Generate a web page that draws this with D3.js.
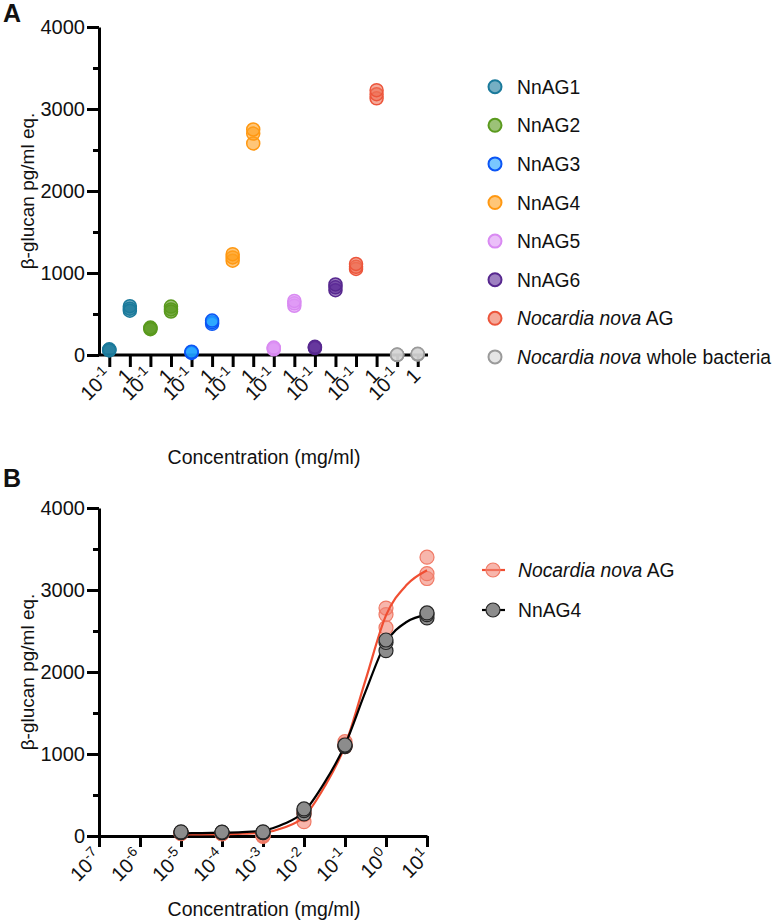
<!DOCTYPE html>
<html>
<head>
<meta charset="utf-8">
<script src="https://cdn.jsdelivr.net/npm/d3@7"></script>
<style>
  body { margin: 0; background: #fff; }
  svg text { font-family: "Liberation Sans", Arial, Helvetica, sans-serif; fill: #111; }
</style>
</head>
<body>
<div id="chart"></div>
<script>
const WIDTH = 778;
const HEIGHT = 924;

// ---- panel A data (three replicates per dose) ----
const groups = ['NnAG1', 'NnAG2', 'NnAG3', 'NnAG4', 'NnAG5', 'NnAG6', 'Nocardia nova AG', 'Nocardia nova whole bacteria'];
const doseLabels = ['10-1', '1'];
const lowDose = [[55, 62, 70], [315, 325, 335], [25, 32, 40], [1150, 1190, 1230], [70, 80, 90], [85, 92, 100], [1050, 1075, 1110], [0, 2, 5]];
const highDose = [[540, 565, 595], [530, 555, 590], [380, 400, 420], [2580, 2700, 2750], [600, 630, 660], [790, 825, 860], [3130, 3180, 3230], [5, 10, 15]];
const strokeCols = ['#1b7a9b', '#5a9a1e', '#0b55f5', '#ff9812', '#d98af2', '#57288f', '#ec553b', '#9a9a9a'];
const fillCols = ['#1b7a9b', '#5a9a1e', '#1fa2ff', '#ffa01e', '#de95f5', '#5d2c98', '#ef6f55', '#d4d4d4'];
const yTicks = [0, 1000, 2000, 3000, 4000];
const yMinor = [500, 1500, 2500, 3500];

// ---- panel B data ----
const concB = [1e-5, 1e-4, 1e-3, 1e-2, 1e-1, 1, 10];
const nocRep = [[30, 35, 40], [25, 30, 35], [-5, 0, 10], [175, 260, 290], [1090, 1120, 1150], [2540, 2700, 2780], [3140, 3200, 3400]];
const nnRep = [[40, 45, 50], [40, 45, 48], [40, 45, 50], [270, 310, 330], [1090, 1100, 1110], [2260, 2360, 2390], [2660, 2700, 2720]];
// fitted curves at half-decade steps
const curveLogX = [-5, -4.5, -4, -3.5, -3, -2.5, -2, -1.5, -1, -0.5, 0, 0.5, 1];
const nocCurve = [18, 20, 22, 28, 40, 100, 235, 600, 1100, 1900, 2690, 3060, 3240];
const nnCurve = [33, 36, 40, 48, 65, 145, 296, 650, 1110, 1760, 2360, 2610, 2700];
const xTicksB = [-7, -6, -5, -4, -3, -2, -1, 0, 1];

const svg = d3.select('#chart').append('svg')
    .attr('width', WIDTH)
    .attr('height', HEIGHT);

const FS = 20;
const LEG_FS = 19.3;

// panel letters
svg.append('text').attr('x', 3).attr('y', 22).text('A')
    .attr('font-size', 25).attr('font-weight', 'bold');
svg.append('text').attr('x', 3).attr('y', 487).text('B')
    .attr('font-size', 25).attr('font-weight', 'bold');

function yAxis(g, y) {
    g.call(d3.axisLeft(y).tickValues(yTicks).tickSize(12).tickSizeOuter(0).tickPadding(2).tickFormat(d3.format('d')));
    g.append('g').call(d3.axisLeft(y).tickValues(yMinor).tickSize(6).tickFormat(''))
        .select('.domain').remove();
    g.selectAll('line, path').attr('stroke', '#000').attr('stroke-width', 3);
    g.selectAll('text').attr('font-size', FS).attr('fill', '#111');
}

function supLabel(sel, base, exp) {
    sel.append('tspan').text(base);
    if (exp !== null) {
        sel.append('tspan').text(exp).attr('dy', -8).attr('font-size', 14);
    }
}

// ================= panel A =================
const yA = d3.scaleLinear().domain([0, 4000]).range([355, 27]);
const cats = d3.range(groups.length * 2);
const xA = d3.scalePoint().domain(cats).range([99, 428]).padding(0.5);

const gA = svg.append('g');
gA.append('g').attr('transform', 'translate(99,0)').call(g => yAxis(g, yA));

const xAxA = gA.append('g').attr('transform', 'translate(0,355)')
    .call(d3.axisBottom(xA).tickSize(12).tickSizeOuter(0).tickFormat(''));
xAxA.selectAll('line, path').attr('stroke', '#000').attr('stroke-width', 3);
xAxA.select('.domain').attr('d', 'M99,0H428');

cats.forEach(i => {
    const lab = doseLabels[i % 2];
    const t = gA.append('text')
        .attr('transform', `translate(${xA(i) + 4},${377}) rotate(-45)`)
        .attr('text-anchor', 'end')
        .attr('font-size', FS);
    if (lab === '1') supLabel(t, '1', null);
    else supLabel(t, '10', '-1');
});

const ptsA = [];
groups.forEach((g, gi) => {
    lowDose[gi].forEach(v => ptsA.push({ gi, c: gi * 2, v }));
    highDose[gi].forEach(v => ptsA.push({ gi, c: gi * 2 + 1, v }));
});
gA.append('g').selectAll('circle')
    .data(ptsA)
    .enter().append('circle')
    .attr('cx', d => xA(d.c))
    .attr('cy', d => yA(d.v))
    .attr('r', 6.5)
    .attr('fill', d => fillCols[d.gi])
    .attr('fill-opacity', 0.6)
    .attr('stroke', d => strokeCols[d.gi])
    .attr('stroke-width', 1.5);

gA.append('text')
    .attr('transform', `translate(34,${(27 + 355) / 2}) rotate(-90)`)
    .attr('text-anchor', 'middle').attr('font-size', 19)
    .text('β-glucan pg/ml eq.');
gA.append('text').attr('x', 264).attr('y', 464)
    .attr('text-anchor', 'middle').attr('font-size', 19.5)
    .text('Concentration (mg/ml)');

// legend A
const legA = gA.append('g').selectAll('g')
    .data(groups)
    .enter().append('g')
    .attr('transform', (d, i) => `translate(495,${86.7 + i * 38.6})`);
legA.append('circle').attr('r', 6.5)
    .attr('fill', (d, i) => fillCols[i]).attr('fill-opacity', 0.6)
    .attr('stroke', (d, i) => strokeCols[i]).attr('stroke-width', 2);
legA.append('text').attr('x', 22).attr('y', 7).attr('font-size', LEG_FS)
    .each(function (d) {
        const t = d3.select(this);
        if (d.startsWith('Nocardia nova')) {
            t.append('tspan').text('Nocardia nova').attr('font-style', 'italic');
            t.append('tspan').text(d.replace('Nocardia nova', ''));
        } else {
            t.text(d);
        }
    });

// ================= panel B =================
const yB = d3.scaleLinear().domain([0, 4000]).range([836, 508]);
const xB = d3.scaleLog().domain([1e-7, 10]).range([99, 427]);

const gB = svg.append('g');
gB.append('g').attr('transform', 'translate(99,0)').call(g => yAxis(g, yB));

const xAxB = gB.append('g').attr('transform', 'translate(0,836)')
    .call(d3.axisBottom(xB).tickValues(xTicksB.map(e => Math.pow(10, e))).tickSize(11).tickSizeOuter(0).tickFormat(''));
xAxB.selectAll('line, path').attr('stroke', '#000').attr('stroke-width', 3);

xTicksB.forEach(e => {
    const t = gB.append('text')
        .attr('transform', `translate(${xB(Math.pow(10, e)) + 4},${858}) rotate(-45)`)
        .attr('text-anchor', 'end')
        .attr('font-size', FS);
    supLabel(t, '10', String(e));
});

gB.append('text')
    .attr('transform', `translate(34,${(508 + 836) / 2}) rotate(-90)`)
    .attr('text-anchor', 'middle').attr('font-size', 19)
    .text('β-glucan pg/ml eq.');
gB.append('text').attr('x', 264).attr('y', 916)
    .attr('text-anchor', 'middle').attr('font-size', 19.5)
    .text('Concentration (mg/ml)');

const line = d3.line()
    .x(d => xB(Math.pow(10, d[0])))
    .y(d => yB(d[1]))
    .curve(d3.curveMonotoneX);

const redStroke = '#f04e32';
const redFill = '#f28674';
const greyFill = '#8c8c8c';

function flat(rep) {
    const out = [];
    rep.forEach((vals, i) => vals.forEach(v => out.push({ x: concB[i], v })));
    return out;
}

gB.append('g').selectAll('circle')
    .data(flat(nocRep))
    .enter().append('circle')
    .attr('cx', d => xB(d.x)).attr('cy', d => yB(d.v)).attr('r', 7)
    .attr('fill', redFill).attr('fill-opacity', 0.6)
    .attr('stroke', '#f07a66').attr('stroke-width', 1.2);

gB.append('path').datum(curveLogX.map((x, i) => [x, nocCurve[i]]))
    .attr('d', line).attr('fill', 'none')
    .attr('stroke', redStroke).attr('stroke-width', 2.2);

gB.append('path').datum(curveLogX.map((x, i) => [x, nnCurve[i]]))
    .attr('d', line).attr('fill', 'none')
    .attr('stroke', '#000').attr('stroke-width', 2.2);

gB.append('g').selectAll('circle')
    .data(flat(nnRep))
    .enter().append('circle')
    .attr('cx', d => xB(d.x)).attr('cy', d => yB(d.v)).attr('r', 7)
    .attr('fill', greyFill)
    .attr('stroke', '#262626').attr('stroke-width', 1.2);

// legend B
const legB = [
    { name: 'Nocardia nova AG', line: redStroke, fill: redFill, op: 0.6, stroke: '#f07a66', y: 570 },
    { name: 'NnAG4', line: '#000', fill: greyFill, op: 1, stroke: '#262626', y: 610 }
];
const lb = gB.append('g').selectAll('g').data(legB).enter().append('g')
    .attr('transform', d => `translate(493,${d.y})`);
lb.append('line').attr('x1', -11).attr('x2', 12)
    .attr('stroke', d => d.line).attr('stroke-width', 2.2);
lb.append('circle').attr('r', 7)
    .attr('fill', d => d.fill).attr('fill-opacity', d => d.op)
    .attr('stroke', d => d.stroke).attr('stroke-width', 1.2);
lb.append('text').attr('x', 25).attr('y', 7).attr('font-size', LEG_FS)
    .each(function (d) {
        const t = d3.select(this);
        if (d.name.startsWith('Nocardia nova')) {
            t.append('tspan').text('Nocardia nova').attr('font-style', 'italic');
            t.append('tspan').text(' AG');
        } else {
            t.text(d.name);
        }
    });
</script>
</body>
</html>
